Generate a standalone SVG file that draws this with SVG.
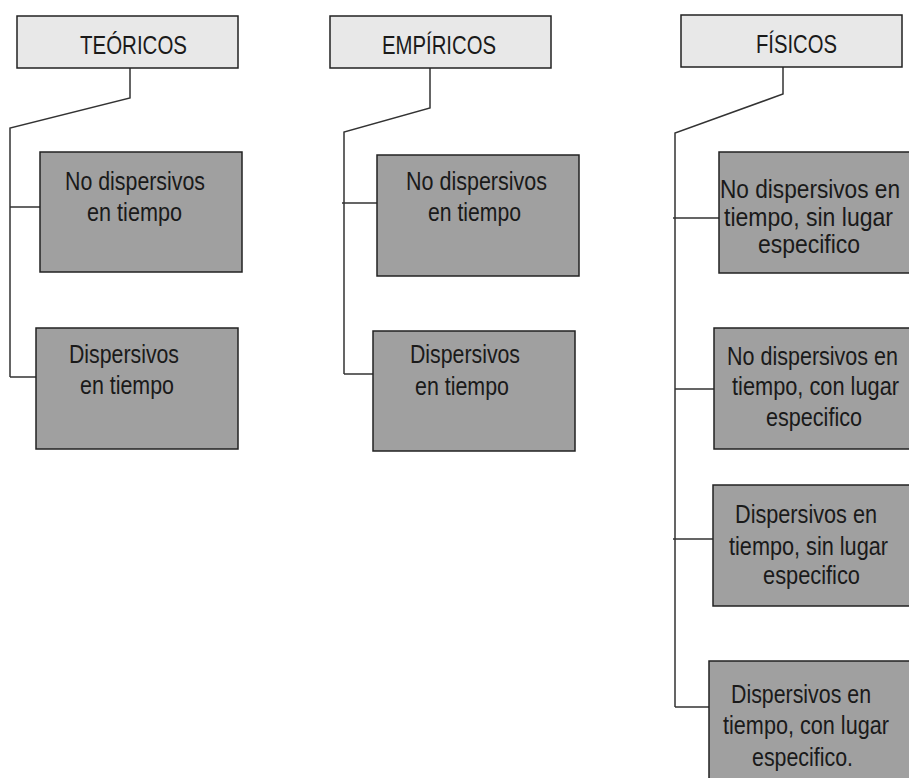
<svg xmlns="http://www.w3.org/2000/svg" width="909" height="778" viewBox="0 0 909 778">
<style>
.hdr{fill:#e8e8e8;stroke:#222;stroke-width:1.5}
.box{fill:#a0a0a0;stroke:#222;stroke-width:1.5}
.t{font-family:"Liberation Sans",Arial,sans-serif;font-size:25px;fill:#1a1a1a}
.th{font-family:"Liberation Sans",Arial,sans-serif;font-size:25px;fill:#1a1a1a}
.c{fill:none;stroke:#333;stroke-width:1.5}
</style>
<rect width="909" height="778" fill="#fff"/>
<g id="connectors">
<path class="c" d="M130,68 V98 L10,128 V377"/>
<path class="c" d="M10,207 H40 M10,377 H36"/>
<path class="c" d="M430,68 V108 L344,132 V374"/>
<path class="c" d="M342,203 H377 M344,374 H373"/>
<path class="c" d="M783,67 V94 L675,133 V707"/>
<path class="c" d="M673,218 H719 M675,389 H714 M673,539 H713 M675,707 H709"/>
</g>
<g id="teoricos">
<rect class="hdr" x="17" y="16" width="221" height="52"/>
<text class="th" x="80" y="54" textLength="107" lengthAdjust="spacingAndGlyphs">TEÓRICOS</text>
</g>
<g id="empiricos">
<rect class="hdr" x="330" y="16" width="221" height="52"/>
<text class="th" x="382" y="54" textLength="114" lengthAdjust="spacingAndGlyphs">EMPÍRICOS</text>
</g>
<g id="fisicos">
<rect class="hdr" x="681" y="15" width="221" height="52"/>
<text class="th" x="756" y="53" textLength="81" lengthAdjust="spacingAndGlyphs">FÍSICOS</text>
</g>
<g id="teo-no-disp">
<rect class="box" x="40" y="152" width="202" height="120"/>
<text class="t" x="65" y="190" textLength="140" lengthAdjust="spacingAndGlyphs">No dispersivos</text>
<text class="t" x="87" y="221" textLength="95" lengthAdjust="spacingAndGlyphs">en tiempo</text>
</g>
<g id="teo-disp">
<rect class="box" x="36" y="328" width="202" height="121"/>
<text class="t" x="69" y="363" textLength="110" lengthAdjust="spacingAndGlyphs">Dispersivos</text>
<text class="t" x="80" y="394" textLength="94" lengthAdjust="spacingAndGlyphs">en tiempo</text>
</g>
<g id="emp-no-disp">
<rect class="box" x="377" y="155" width="202" height="121"/>
<text class="t" x="406" y="190" textLength="141" lengthAdjust="spacingAndGlyphs">No dispersivos</text>
<text class="t" x="428" y="221" textLength="93" lengthAdjust="spacingAndGlyphs">en tiempo</text>
</g>
<g id="emp-disp">
<rect class="box" x="373" y="331" width="202" height="120"/>
<text class="t" x="410" y="363" textLength="110" lengthAdjust="spacingAndGlyphs">Dispersivos</text>
<text class="t" x="415" y="395" textLength="94" lengthAdjust="spacingAndGlyphs">en tiempo</text>
</g>
<g id="fis-1">
<rect class="box" x="719" y="152" width="202" height="121"/>
<text class="t" x="720" y="198" textLength="180" lengthAdjust="spacingAndGlyphs">No dispersivos en</text>
<text class="t" x="724" y="226" textLength="169" lengthAdjust="spacingAndGlyphs">tiempo, sin lugar</text>
<text class="t" x="758" y="253" textLength="102" lengthAdjust="spacingAndGlyphs">especifico</text>
</g>
<g id="fis-2">
<rect class="box" x="714" y="328" width="202" height="121"/>
<text class="t" x="727" y="365" textLength="171" lengthAdjust="spacingAndGlyphs">No dispersivos en</text>
<text class="t" x="732" y="395" textLength="167" lengthAdjust="spacingAndGlyphs">tiempo, con lugar</text>
<text class="t" x="766" y="426" textLength="96" lengthAdjust="spacingAndGlyphs">especifico</text>
</g>
<g id="fis-3">
<rect class="box" x="713" y="485" width="202" height="121"/>
<text class="t" x="735" y="523" textLength="142" lengthAdjust="spacingAndGlyphs">Dispersivos en</text>
<text class="t" x="729" y="555" textLength="159" lengthAdjust="spacingAndGlyphs">tiempo, sin lugar</text>
<text class="t" x="763" y="584" textLength="97" lengthAdjust="spacingAndGlyphs">especifico</text>
</g>
<g id="fis-4">
<rect class="box" x="709" y="661" width="210" height="130"/>
<text class="t" x="731" y="703" textLength="140" lengthAdjust="spacingAndGlyphs">Dispersivos en</text>
<text class="t" x="723" y="734" textLength="166" lengthAdjust="spacingAndGlyphs">tiempo, con lugar</text>
<text class="t" x="752" y="766" textLength="101" lengthAdjust="spacingAndGlyphs">especifico.</text>
</g>
</svg>
